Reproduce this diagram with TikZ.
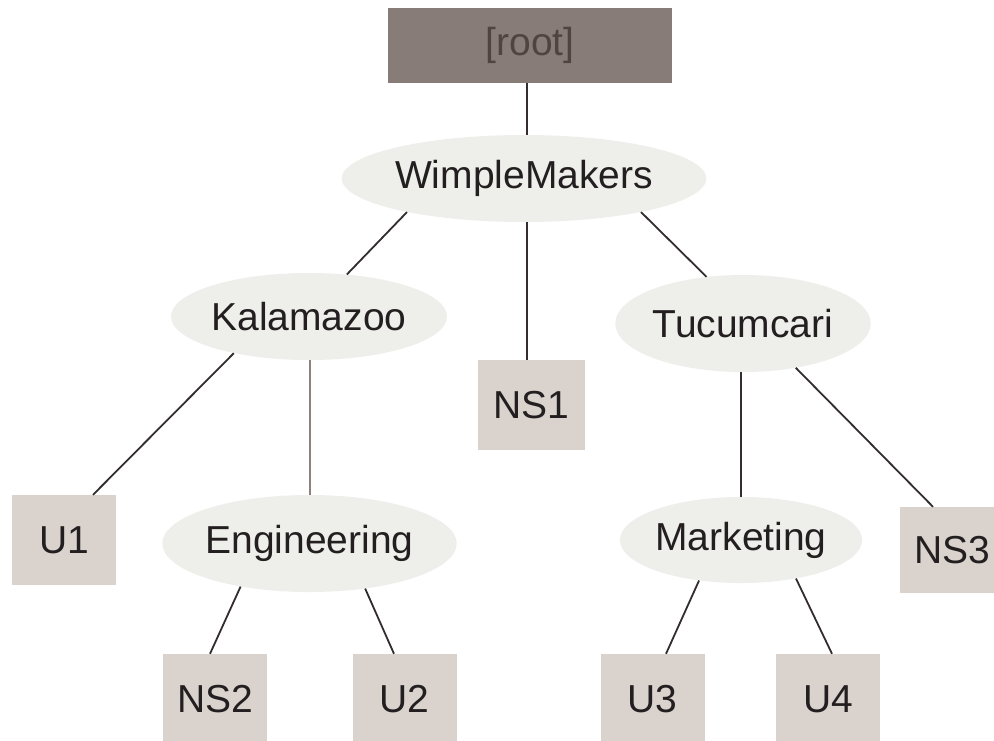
\documentclass[tikz,border=0pt]{standalone}
\usepackage{fontspec}
\setmainfont{Liberation Sans}
\usetikzlibrary{shapes.geometric,calc}

\definecolor{rootfill}{HTML}{877C77}
\definecolor{roottext}{HTML}{4E4542}
\definecolor{ovalfill}{HTML}{EEEEEA}
\definecolor{leaffill}{HTML}{D9D2CD}
\definecolor{linkdark}{HTML}{332E2D}
\definecolor{linkbrown}{HTML}{8C817C}
\definecolor{labeltext}{HTML}{231F20}

\tikzset{
  lbl/.style={font=\fontsize{39}{46}\selectfont, text=labeltext, inner sep=0pt},
  rootbox/.style={lbl, rectangle, fill=rootfill, text=roottext,
                  minimum width=284pt, minimum height=75pt},
  oval/.style={lbl, ellipse, fill=ovalfill},
  leaf/.style={lbl, rectangle, fill=leaffill,
               minimum width=104pt, minimum height=90pt},
  link/.style={draw=linkdark, line width=1.8pt},
  softlink/.style={draw=linkbrown, line width=1.8pt}
}

\begin{document}
\begin{tikzpicture}[x=1pt, y=-1pt]
  \clip (0,0) rectangle (994,740);
  \fill[white] (0,0) rectangle (994,740);

  % top of the tree
  \node[rootbox] (root) at (530,45.5) {[root]};
  \node[oval, minimum width=338pt, minimum height=87pt] (wm) at (524,178.5) {WimpleMakers};

  % second level
  \node[oval, minimum width=268pt, minimum height=87pt] (kal) at (309,316.5) {Kalamazoo};
  \node[leaf, minimum width=107pt] (ns1) at (531,405) {NS1};
  \node[oval, minimum width=247pt, minimum height=97pt] (tuc) at (743,323.5) {Tucumcari};

  % third level
  \node[leaf] (u1) at (64,540) {U1};
  \node[oval, minimum width=285pt, minimum height=97pt] (eng) at (309.5,543.5) {Engineering};
  \node[oval, minimum width=232pt, minimum height=86pt] (mkt) at (741,540) {Marketing};
  \node[leaf, minimum height=86pt] (ns3) at (952,550) {NS3};

  % bottom row
  \node[leaf] (ns2) at (215,699) {NS2};
  \node[leaf] (u2) at (404.5,699) {U2};
  \node[leaf] (u3) at (652.5,699) {U3};
  \node[leaf] (u4) at (828,699) {U4};

  % connectors
  \draw[link] ([xshift=-3pt]root.south) -- ([xshift=3pt]wm.north);
  \draw[link] (wm.196.1) -- (kal.48.9);
  \draw[link] ([xshift=3pt]wm.south) -- ([xshift=-4pt]ns1.north);
  \draw[link] (wm.-16.4) -- (tuc.128.4);

  \draw[link] (kal.206.9) -- ([xshift=29pt]u1.north);
  \draw[softlink] ([xshift=1pt]kal.south) -- ([xshift=0.5pt]eng.north);

  \draw[link] ([xshift=-2pt]tuc.south) -- (mkt.north);
  \draw[link] (tuc.-40.8) -- ([xshift=-19pt]ns3.north);

  \draw[link] (eng.212) -- ([xshift=-5pt]ns2.north);
  \draw[link] (eng.-39.3) -- ([xshift=-10.5pt]u2.north);

  \draw[link] (mkt.224.3) -- ([xshift=13.5pt]u3.north);
  \draw[link] (mkt.-35.1) -- ([xshift=4pt]u4.north);
\end{tikzpicture}
\end{document}
